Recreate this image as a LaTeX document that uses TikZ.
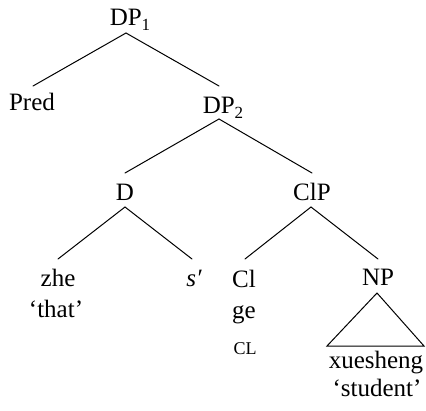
\documentclass[tikz,border=0pt]{standalone}
\usepackage{fontspec}
\setmainfont{Liberation Serif}
\newcommand\lsub[1]{\raisebox{-5pt}{\fontsize{17}{20}\selectfont #1}}
\begin{document}
\begin{tikzpicture}[x=1pt,y=-1pt,
  lbl/.style={anchor=base,inner sep=0pt,font=\fontsize{25}{30}\selectfont},
  small/.style={anchor=base,inner sep=0pt,font=\fontsize{18}{20}\selectfont},
  branch/.style={line width=1pt,line cap=round,line join=miter}]
\useasboundingbox (0,0) rectangle (426,410);

% labels
\node[lbl] (dp1) at (130,25) {DP\lsub{1}};
\node[lbl] (pred) at (32,110) {Pred};
\node[lbl] (dp2) at (223,113) {DP\lsub{2}};
\node[lbl] (d) at (125,200) {D};
\node[lbl] (clp) at (312,200) {ClP};
\node[lbl] (zhe) at (58,286) {zhe};
\node[lbl] (that) at (56,317) {`that'};
\node[lbl] (s) at (194,286) {\itshape s′};
\node[lbl] (cl) at (244,287) {Cl};
\node[lbl] (ge) at (244,318) {ge};
\node[small] (clgl) at (245,354) {CL};
\node[lbl] (np) at (378,285) {NP};
\node[lbl] (xs) at (376,368) {xuesheng};
\node[lbl] (st) at (377,396) {`student'};

% branches
\draw[branch] ([shift={(-4,8)}]dp1.base) -- ([shift={(1,-24)}]pred.base);
\draw[branch] ([shift={(-4,8)}]dp1.base) -- ([shift={(-4,-27)}]dp2.base);
\draw[branch] ([shift={(-4,6)}]dp2.base) -- ([shift={(0,-27)}]d.base);
\draw[branch] ([shift={(-4,6)}]dp2.base) -- ([shift={(0,-27)}]clp.base);
\draw[branch] ([shift={(0,7)}]d.base) -- ([shift={(0,-27)}]zhe.base);
\draw[branch] ([shift={(0,7)}]d.base) -- ([shift={(-2,-27)}]s.base);
\draw[branch] ([shift={(-1,7)}]clp.base) -- ([shift={(1,-28)}]cl.base);
\draw[branch] ([shift={(-1,7)}]clp.base) -- ([shift={(0,-26)}]np.base);

% roof over the NP
\draw[branch] ([shift={(-1,8)}]np.base) -- ([shift={(-49,-22)}]xs.base)
  -- ([shift={(48,-22)}]xs.base) -- cycle;
\end{tikzpicture}
\end{document}
